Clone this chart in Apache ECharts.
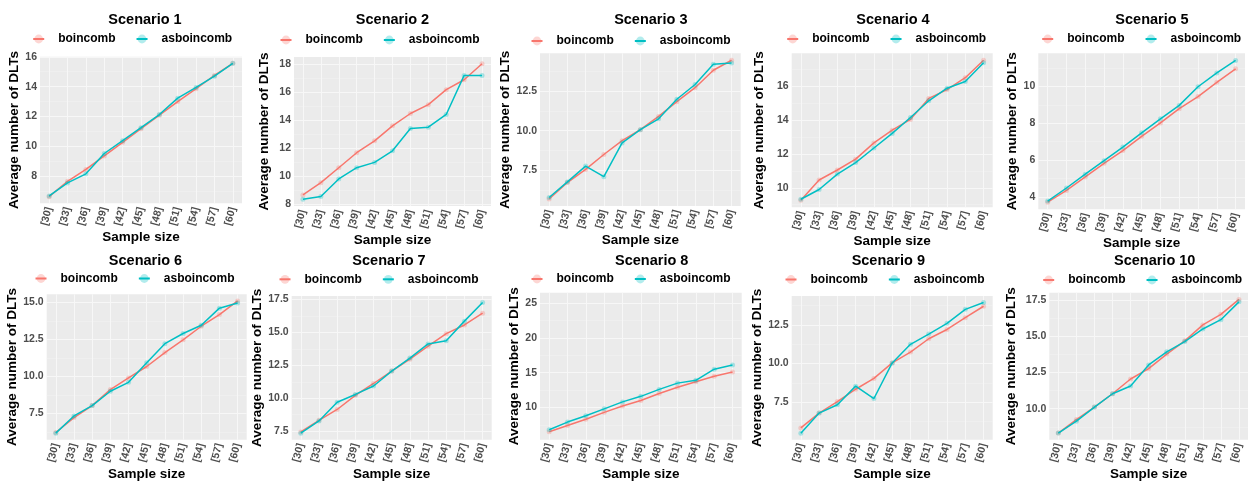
<!DOCTYPE html>
<html>
<head>
<meta charset="utf-8">
<script src="https://cdn.jsdelivr.net/npm/echarts@6/dist/echarts.min.js"></script>
<style>
  html, body { margin: 0; padding: 0; background: #ffffff; }
  #chart { width: 1250px; height: 482px; }
</style>
</head>
<body>
<div id="chart"></div>
<script>
// ---------------- data ----------------
const categories = ['[30]', '[33]', '[36]', '[39]', '[42]', '[45]', '[48]', '[51]', '[54]', '[57]', '[60]'];
const scenarioTitles = ['Scenario 1', 'Scenario 2', 'Scenario 3', 'Scenario 4', 'Scenario 5',
                        'Scenario 6', 'Scenario 7', 'Scenario 8', 'Scenario 9', 'Scenario 10'];
const seriesNames = ['boincomb', 'asboincomb'];

const boincomb = [
  [6.63, 7.66, 8.45, 9.36, 10.27, 11.18, 12.09, 13.0, 13.86, 14.75, 15.56],
  [8.64, 9.51, 10.58, 11.65, 12.5, 13.57, 14.45, 15.08, 16.15, 16.86, 18.0],
  [5.69, 6.73, 7.56, 8.5, 9.37, 10.06, 10.9, 11.83, 12.71, 13.81, 14.44],
  [9.26, 10.46, 11.05, 11.69, 12.65, 13.4, 14.04, 15.28, 15.8, 16.5, 17.53],
  [3.72, 4.36, 5.09, 5.83, 6.52, 7.29, 8.02, 8.79, 9.45, 10.22, 10.95],
  [6.21, 7.22, 8.03, 9.11, 9.9, 10.67, 11.61, 12.47, 13.39, 14.18, 15.1],
  [7.45, 8.33, 9.15, 10.22, 11.12, 12.06, 12.96, 13.95, 14.9, 15.56, 16.45],
  [6.5, 7.4, 8.3, 9.3, 10.2, 11.0, 12.0, 12.9, 13.7, 14.5, 15.1],
  [5.84, 6.8, 7.54, 8.34, 9.04, 10.04, 10.74, 11.6, 12.2, 12.96, 13.7],
  [8.32, 9.25, 10.11, 11.03, 12.05, 12.76, 13.77, 14.68, 15.78, 16.51, 17.54]
];
const asboincomb = [
  [6.68, 7.55, 8.16, 9.52, 10.38, 11.25, 12.13, 13.23, 13.95, 14.7, 15.56],
  [8.33, 8.52, 9.78, 10.58, 10.96, 11.79, 13.38, 13.47, 14.38, 17.17, 17.17],
  [5.79, 6.77, 7.77, 7.1, 9.23, 10.06, 10.75, 11.98, 12.91, 14.19, 14.27],
  [9.32, 9.9, 10.81, 11.49, 12.35, 13.21, 14.15, 15.14, 15.88, 16.28, 17.39],
  [3.78, 4.49, 5.24, 5.97, 6.71, 7.48, 8.24, 8.97, 9.98, 10.73, 11.41],
  [6.17, 7.33, 8.03, 9.0, 9.6, 10.93, 12.21, 12.9, 13.46, 14.61, 14.96],
  [7.35, 8.28, 9.7, 10.29, 10.93, 12.06, 13.05, 14.12, 14.36, 15.85, 17.26],
  [6.8, 7.9, 8.8, 9.8, 10.8, 11.6, 12.6, 13.5, 13.9, 15.5, 16.1],
  [5.5, 6.8, 7.34, 8.54, 7.74, 10.04, 11.24, 11.9, 12.6, 13.5, 13.94],
  [8.32, 9.14, 10.11, 11.03, 11.57, 13.02, 13.92, 14.63, 15.5, 16.14, 17.37]
];
// major tick step of each panel's y axis (tick labels 8,10,... or 7.5,10.0,...)
const yTickStep = [2, 2, 2.5, 2, 2, 2.5, 2.5, 5, 2.5, 2.5];
// fixed y limits where the panel does not use the data range (null = data range + 5%)
const yFixedLimits = [null, null, null, null, null, null, null, [5.36, 26.5], null, null];

// ---------------- layout ----------------
// [left, top, width, height] of each plot panel
const panelRects = [
  [40, 56.7, 202, 146.6],
  [294, 57, 197, 149],
  [540, 53.3, 200.7, 152.7],
  [791.7, 53.3, 201, 154],
  [1038.3, 53.3, 206.7, 156],
  [46.7, 294.3, 200, 155],
  [291.7, 296, 200, 154.3],
  [540, 292.7, 201.7, 155],
  [791.7, 296, 201, 153.3],
  [1049.3, 292.7, 198.7, 154.3]
];
const titlePos = [[145, 20], [392.5, 20], [650.8, 20], [893, 20], [1152, 20],
                  [145.5, 261], [389, 261], [651.7, 261], [888.3, 261], [1154.7, 261]];
const legendPos = [[32.2, 40], [279.5, 41], [530.5, 42], [786.2, 40], [1041.2, 40],
                   [34.5, 279.5], [278.5, 280.3], [530.5, 280], [784.5, 280.5], [1042.2, 281]];
const yNameGap = [13.5, 22.5, 26.8, 25, 15, 26, 25, 18, 26.5, 31];

const RED = '#F8766D', TEAL = '#00BFC4';
const FONT = 'Liberation Sans, Arial, Helvetica, sans-serif';

const titles = [], legends = [], grids = [], xAxes = [], yAxes = [], series = [];

for (let i = 0; i < 10; i++) {
  const r = panelRects[i];
  titles.push({
    text: scenarioTitles[i],
    left: titlePos[i][0], top: titlePos[i][1],
    textAlign: 'center', textVerticalAlign: 'middle',
    padding: 0,
    textStyle: { fontFamily: FONT, fontWeight: 'bold', fontSize: 14.5, color: '#000' }
  });
  legends.push({
    data: seriesNames,
    left: legendPos[i][0], top: legendPos[i][1] - 7,
    padding: 0, itemGap: 20, itemWidth: 11, itemHeight: 11,
    selectedMode: false,
    textStyle: { fontFamily: FONT, fontWeight: 'bold', fontSize: 12, color: '#000', padding: [0, 0, 0, 9] }
  });
  grids.push({
    left: r[0], top: r[1], width: r[2], height: r[3],
    show: true, backgroundColor: '#EBEBEB', borderWidth: 0
  });

  let lo, hi;
  if (yFixedLimits[i]) {
    lo = yFixedLimits[i][0]; hi = yFixedLimits[i][1];
  } else {
    const all = boincomb[i].concat(asboincomb[i]);
    const mn = Math.min.apply(null, all), mx = Math.max.apply(null, all);
    const pad = (mx - mn) * 0.05;
    lo = mn - pad; hi = mx + pad;
  }
  const step = yTickStep[i];
  const dec = (step % 1 === 0) ? 0 : 1;

  xAxes.push({
    type: 'category', gridIndex: i, data: categories, boundaryGap: true,
    axisLine: { show: false }, axisTick: { show: false, alignWithLabel: true },
    axisLabel: {
      interval: 0, rotate: 75, margin: 4,
      fontFamily: FONT, fontWeight: 'bold', fontSize: 10.5, color: '#4D4D4D'
    },
    splitLine: { show: true, alignWithLabel: true, interval: 0, lineStyle: { color: '#F7F7F7', width: 1 } },
    name: 'Sample size', nameLocation: 'middle', nameGap: 21,
    nameTextStyle: { fontFamily: FONT, fontWeight: 'bold', fontSize: 13.5, color: '#000' }
  });
  yAxes.push({
    type: 'value', gridIndex: i, min: lo, max: hi,
    minInterval: step, maxInterval: step,
    axisLine: { show: false }, axisTick: { show: false },
    axisLabel: {
      margin: 3, showMinLabel: false, showMaxLabel: false,
      fontFamily: FONT, fontWeight: 'bold', fontSize: 10.5, color: '#4D4D4D',
      formatter: function (v) { return v.toFixed(dec); }
    },
    splitLine: { show: true, showMinLine: false, showMaxLine: false, lineStyle: { color: '#F7F7F7', width: 1 } },
    minorTick: { show: false, splitNumber: 2 },
    minorSplitLine: { show: true, lineStyle: { color: '#F2F2F2', width: 0.6 } },
    name: 'Average number of DLTs', nameLocation: 'middle', nameGap: yNameGap[i],
    nameTextStyle: { fontFamily: FONT, fontWeight: 'bold', fontSize: 13.5, color: '#000' }
  });

  const sets = [boincomb[i], asboincomb[i]];
  const cols = [RED, TEAL];
  for (let s = 0; s < 2; s++) {
    series.push({
      type: 'line', name: seriesNames[s], xAxisIndex: i, yAxisIndex: i,
      data: sets[s],
      symbol: 'circle', symbolSize: 5, showSymbol: true,
      lineStyle: { color: cols[s], width: 1.5 },
      itemStyle: { color: cols[s], opacity: 0.3 },
      emphasis: { disabled: true },
      z: 2 + s
    });
  }
}

const chart = echarts.init(document.getElementById('chart'), null, { renderer: 'canvas' });
chart.setOption({
  animation: false,
  backgroundColor: '#ffffff',
  title: titles,
  legend: legends,
  grid: grids,
  xAxis: xAxes,
  yAxis: yAxes,
  series: series
});
</script>
</body>
</html>
